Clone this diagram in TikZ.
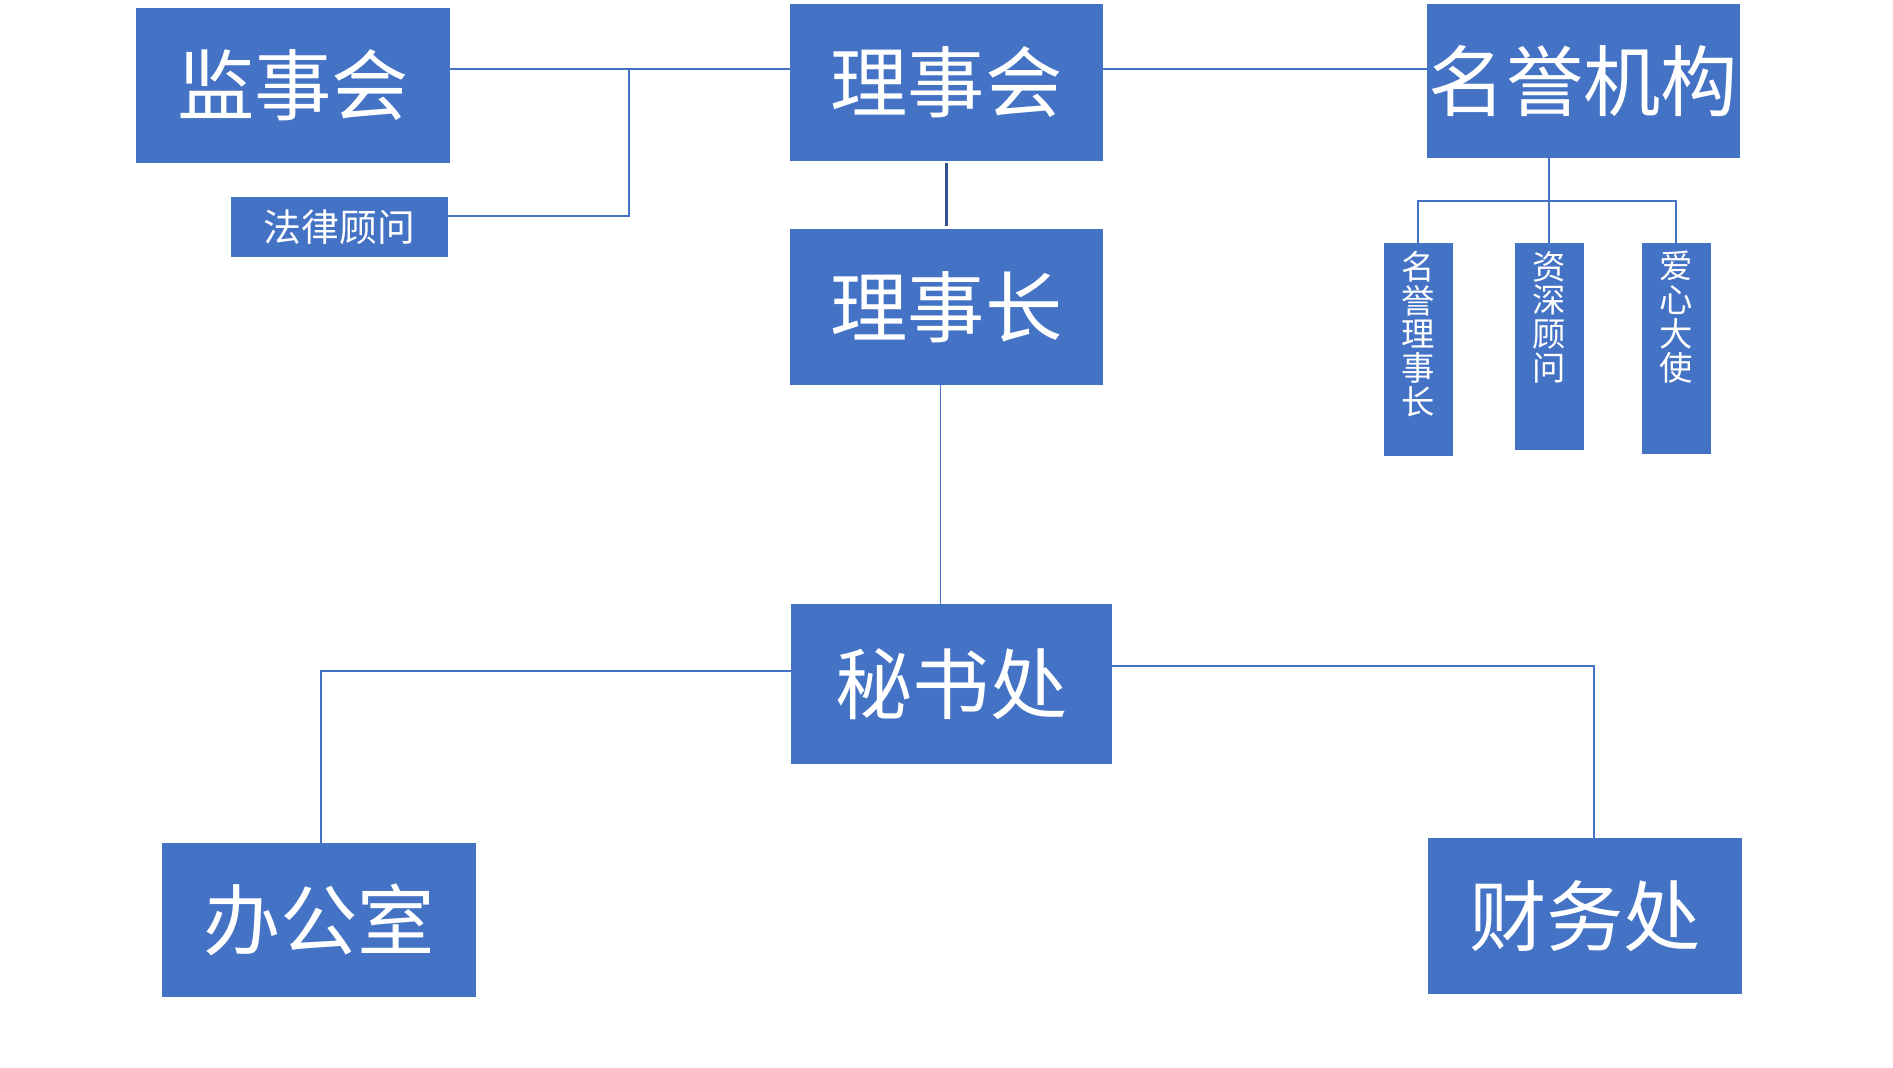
\documentclass[tikz,border=0pt]{standalone}
\usepackage{fontspec}
\newfontfamily\cjk{Noto Sans CJK SC}
\definecolor{boxblue}{HTML}{4472C4}
\definecolor{darkline}{HTML}{2F528F}
\tikzset{
  unit/.style={fill=boxblue, draw=none, text=white, inner sep=0pt, align=center},
  bigunit/.style={unit, font=\cjk\fontsize{44}{46}\selectfont},
  link/.style={draw=boxblue, line width=0.8pt},
}
\begin{document}
\begin{tikzpicture}[x=0.02cm, y=-0.02cm]
\useasboundingbox (0,0) rectangle (1893,1068);

% Top row
\node[bigunit, minimum width=6.28cm, minimum height=3.1cm] (jsh) at (293,85.5) {监事会};
\node[bigunit, minimum width=6.26cm, minimum height=3.14cm] (lsh) at (946.5,82.5) {理事会};
\node[bigunit, minimum width=6.26cm, minimum height=3.08cm] (myjg) at (1583.5,81) {名誉机构};
\node[unit, font=\cjk\fontsize{21.5}{23}\selectfont, minimum width=4.34cm, minimum height=1.2cm] (flgw) at (339.5,227) {法律顾问};

% Middle
\node[bigunit, minimum width=6.26cm, minimum height=3.12cm] (lsz) at (946.5,307) {理事长};
\node[bigunit, minimum width=6.42cm, minimum height=3.2cm] (msc) at (951.5,684) {秘书处};

% Honorary members (vertical text)
\foreach \name/\x/\h/\txt in {mylsz/1418/4.26/{名\\誉\\理\\事\\长}, zsgw/1549/4.14/{资\\深\\顾\\问}, axds/1676/4.22/{爱\\心\\大\\使}} {
  \node[unit, anchor=north, minimum width=1.38cm, minimum height=\h cm,
    label={[anchor=north, yshift=-0.16cm, text=white, align=center,
      font=\cjk\fontsize{19}{19.2}\selectfont, inner sep=0pt]north:\txt}] (\name) at (\x,243) {};
}

% Bottom row
\node[bigunit, minimum width=6.28cm, minimum height=3.08cm] (bgs) at (319,920) {办公室};
\node[bigunit, minimum width=6.28cm, minimum height=3.12cm] (cwc) at (1585,916) {财务处};

% Connectors
\coordinate (topline) at (629,69);
\coordinate (lawcorner) at (629,216);
\draw[link] (jsh.east |- topline) -- (lsh.west |- topline);
\draw[link] (lsh.east |- topline) -- (myjg.west |- topline);
\draw[link] (topline) -- (lawcorner) -- (flgw.east |- lawcorner);
\draw[darkline, line width=1.4pt, shorten <=1pt, shorten >=1.5pt] (lsh.south) -- (lsz.north);

\coordinate (drop) at (940.5,0);
\draw[link] (lsz.south -| drop) -- (msc.north -| drop);

\coordinate (hbar) at (1549,201);
\draw[link] (myjg.south -| hbar) -- (hbar);
\draw[link] (mylsz.north) |- (axds.north |- hbar) -- (axds.north);
\draw[link] (hbar) -- (zsgw.north);

\coordinate (lcorner) at (321,671);
\coordinate (rcorner) at (1594,666);
\draw[link] (msc.west |- lcorner) -- (lcorner) -- (bgs.north -| lcorner);
\draw[link] (msc.east |- rcorner) -- (rcorner) -- (cwc.north -| rcorner);

\end{tikzpicture}
\end{document}
